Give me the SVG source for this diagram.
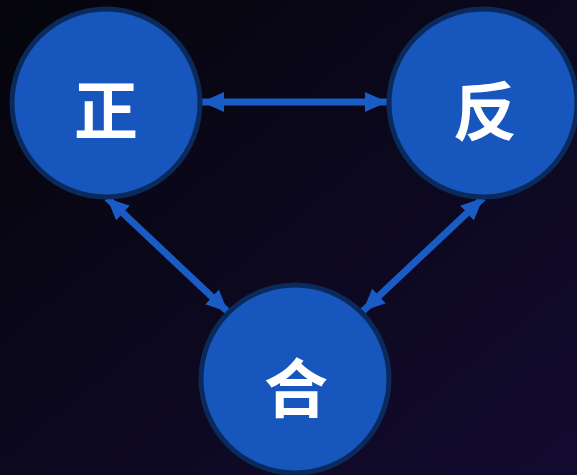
<svg xmlns="http://www.w3.org/2000/svg" width="577" height="475" viewBox="0 0 577 475">
<defs>
<linearGradient id="bg" x1="0" y1="0" x2="1" y2="1">
<stop offset="0" stop-color="#05050b"/>
<stop offset="1" stop-color="#130b30"/>
</linearGradient>
<marker id="ah" viewBox="0 0 22 20" refX="22" refY="10" markerWidth="22" markerHeight="20" markerUnits="userSpaceOnUse" orient="auto-start-reverse">
<path d="M0,0 L22,10 L0,20 Z" fill="#1a5cc6"/>
</marker>
</defs>
<style>
.node circle{fill:#1756bd;stroke:#0b2a5c;stroke-width:5}
.node text{fill:#ffffff;font-family:"Noto Sans CJK SC","Noto Sans CJK JP",sans-serif;font-weight:bold;font-size:64px;text-anchor:middle;dominant-baseline:central}
.edge{stroke:#1a5cc6;stroke-width:7;fill:none;marker-start:url(#ah);marker-end:url(#ah)}
</style>
<rect width="577" height="475" fill="url(#bg)"/>
<g id="connectors">
<line class="edge" x1="202" y1="102" x2="387" y2="102"/>
<line class="edge" x1="107" y1="198" x2="228" y2="312"/>
<line class="edge" x1="483" y1="198" x2="363" y2="311"/>
</g>
<g id="node-zheng" class="node">
<circle cx="106" cy="103" r="94"/>
<text x="106" y="106">正</text>
</g>
<g id="node-fan" class="node">
<circle cx="483" cy="103" r="94"/>
<text x="485" y="107">反</text>
</g>
<g id="node-he" class="node">
<circle cx="295" cy="379" r="94"/>
<text x="296" y="384">合</text>
</g>
</svg>
